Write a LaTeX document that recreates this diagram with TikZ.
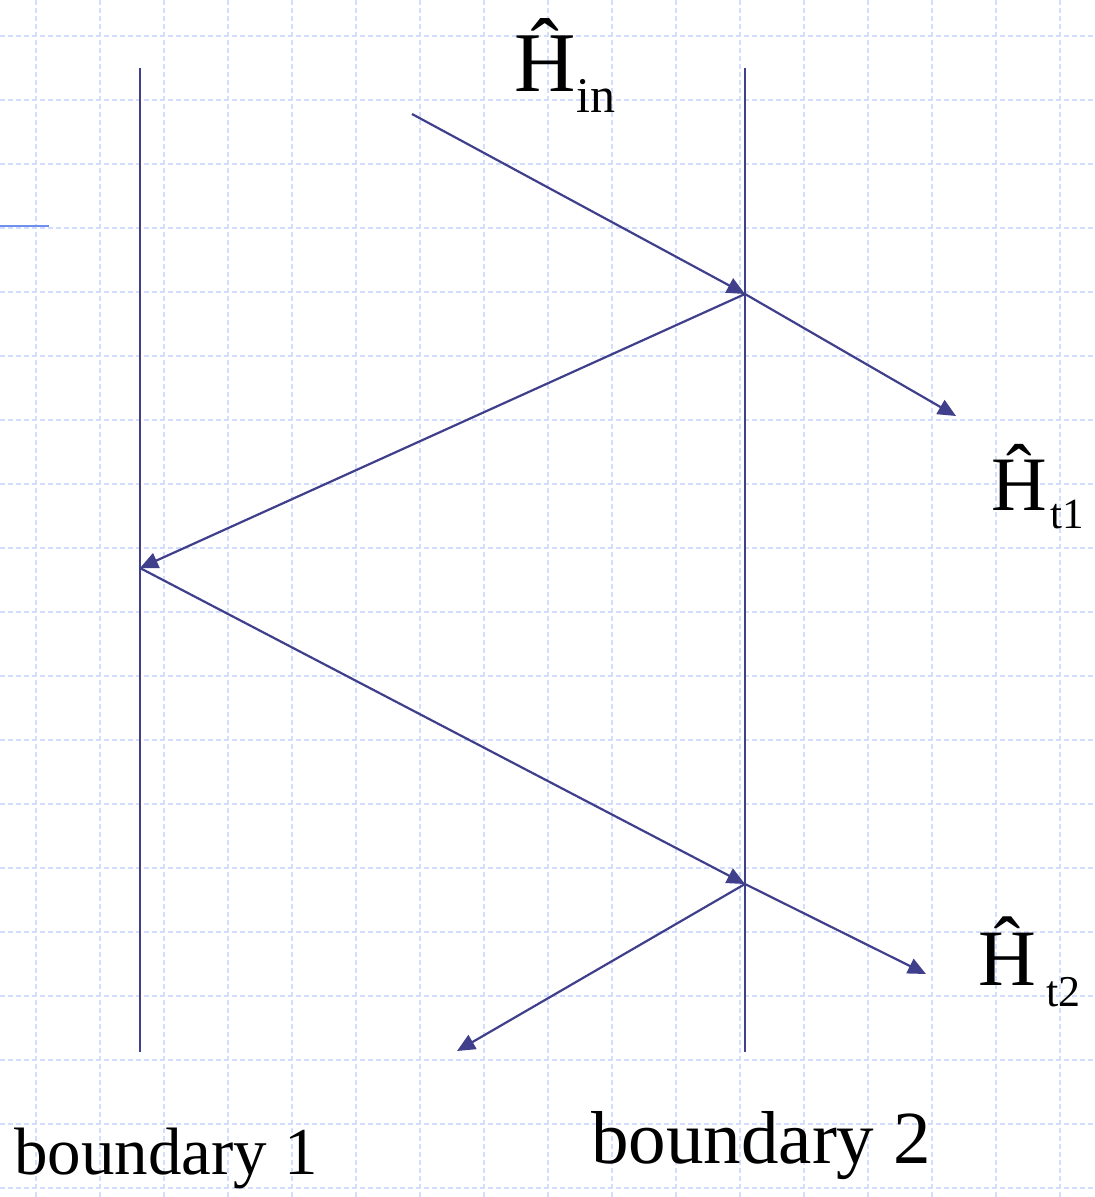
\documentclass[tikz,border=0pt]{standalone}
\usepackage{fontspec}
\setmainfont{Liberation Serif}
\usetikzlibrary{arrows.meta}
\definecolor{gridc}{HTML}{D3DEFF}
\definecolor{ray}{HTML}{3F3F8C}
\definecolor{tickc}{HTML}{7090F0}
\tikzset{
  gridline/.style={gridc, line width=1.1pt, dash pattern=on 5pt off 3pt},
  bound/.style={ray, line width=2pt},
  rayarrow/.style={ray, line width=2.2pt, -{Triangle[length=18pt,width=16pt]}},
  bigh/.style={inner sep=0pt, anchor=base west, font=\fontsize{#1}{#1}\selectfont},
  subs/.style={inner sep=0pt, anchor=base west, font=\fontsize{#1}{#1}\selectfont},
  blabel/.style={inner sep=0pt, anchor=base west, font=\fontsize{#1}{#1}\selectfont}
}
\begin{document}
\begin{tikzpicture}[x=1pt,y=-1pt]
\useasboundingbox (0,0) rectangle (1095,1197);
\fill[white] (0,0) rectangle (1095,1197);
% grid
\foreach \i in {0,...,16} {\draw[gridline] (36+64*\i,0) -- (36+64*\i,1197);}
\foreach \j in {0,...,18} {\draw[gridline] (0,36+64*\j) -- (1095,36+64*\j);}
% left tick
\coordinate (tickA) at (0,226);
\coordinate (tickB) at (49,226);
\draw[tickc, line width=2pt] (tickA) -- (tickB);
% boundaries
\coordinate (b1top) at (140,68);
\coordinate (b1bot) at (140,1052);
\coordinate (b2top) at (745,68);
\coordinate (b2bot) at (745,1052);
\draw[bound] (b1top) -- (b1bot);
\draw[bound] (b2top) -- (b2bot);
% ray points
\coordinate (src) at (412,114);
\coordinate (p1) at (745,294);
\coordinate (t1end) at (956,416);
\coordinate (p2) at (140,568);
\coordinate (p3) at (745,884);
\coordinate (t2end) at (926,974);
\coordinate (r2end) at (457,1051);
\draw[rayarrow] (src) -- (p1);
\draw[rayarrow] (p1) -- (t1end);
\draw[rayarrow] (p1) -- (p2);
\draw[rayarrow] (p2) -- (p3);
\draw[rayarrow] (p3) -- (t2end);
\draw[rayarrow] (p3) -- (r2end);
% labels
\node[bigh=85] (hin) at (514,91) {Ĥ};
\node[subs=50] (hinsub) at (576,112) {in};
\node[bigh=77] (ht1) at (991,510) {Ĥ};
\node[subs=43] (ht1sub) at (1050,528) {t1};
\node[bigh=80] (ht2) at (978,985) {Ĥ};
\node[subs=44] (ht2sub) at (1046,1006) {t2};
\node[blabel=67] (bl1) at (14,1174) {boundary 1};
\node[blabel=75] (bl2) at (591,1163) {boundary 2};
\end{tikzpicture}
\end{document}
